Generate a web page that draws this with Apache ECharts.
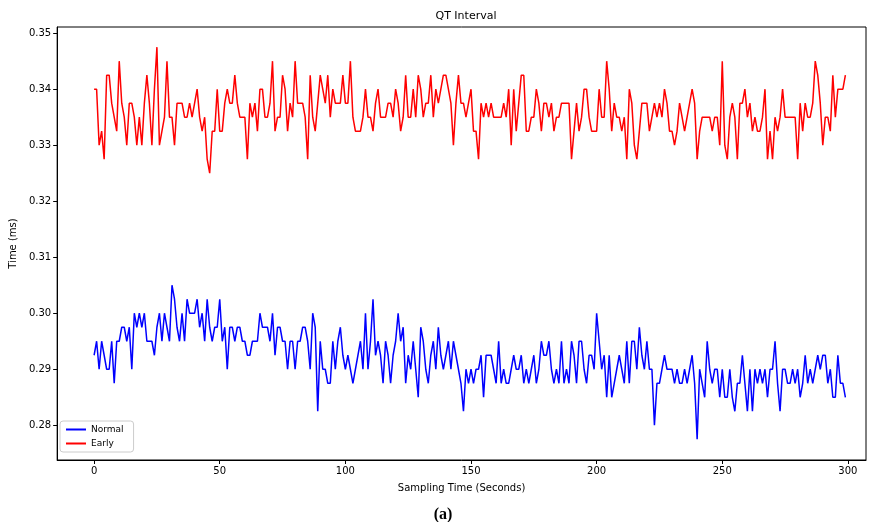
<!DOCTYPE html>
<html>
<head>
<meta charset="utf-8">
<script src="https://cdn.jsdelivr.net/npm/echarts@6/dist/echarts.min.js"></script>
<style>
  html, body { margin: 0; padding: 0; background: #fff; }
  #main { width: 877px; height: 522px; }
</style>
</head>
<body>
<div id="main"></div>
<script>
// Tick labels
const xTicks = [0, 50, 100, 150, 200, 250, 300];
const yTicks = [0.28, 0.29, 0.30, 0.31, 0.32, 0.33, 0.34, 0.35];

// QT interval per sample (0.0025 steps)
const normal = [
  0.2925, 0.295, 0.29, 0.295, 0.2925, 0.29, 0.29, 0.295, 0.2875, 0.295,
  0.295, 0.2975, 0.2975, 0.295, 0.2975, 0.29, 0.30, 0.2975, 0.30, 0.2975,
  0.30, 0.295, 0.295, 0.295, 0.2925, 0.2975, 0.30, 0.295, 0.30, 0.2975,
  0.295, 0.305, 0.3025, 0.2975, 0.295, 0.30, 0.295, 0.3025, 0.30, 0.30,
  0.30, 0.3025, 0.2975, 0.30, 0.295, 0.3025, 0.2975, 0.295, 0.2975, 0.2975,
  0.3025,
  0.295, 0.2975, 0.29, 0.2975, 0.2975, 0.295, 0.2975, 0.2975, 0.295, 0.295,
  0.2925, 0.2925, 0.295, 0.295, 0.295, 0.30, 0.2975, 0.2975, 0.2975, 0.295,
  0.30, 0.2925, 0.2975, 0.2975, 0.295, 0.295, 0.29, 0.295, 0.295, 0.29,
  0.295, 0.295, 0.2975, 0.2975, 0.295, 0.29, 0.30, 0.2975, 0.2825, 0.295,
  0.29, 0.29, 0.2875, 0.2875, 0.295, 0.29, 0.295, 0.2975, 0.2925, 0.29,
  0.2925, 0.29, 0.2875, 0.29, 0.2925, 0.295, 0.29, 0.30, 0.29, 0.295,
  0.3025, 0.2925, 0.295, 0.2925, 0.2875, 0.295, 0.2925, 0.2875, 0.2925, 0.295,
  0.30, 0.295, 0.2975, 0.2875, 0.2925, 0.29, 0.295, 0.29, 0.285, 0.2975,
  0.295, 0.29, 0.2875, 0.2925, 0.295, 0.29, 0.2975, 0.2925, 0.29, 0.2925,
  0.295, 0.29, 0.295, 0.2925, 0.29, 0.2875, 0.2825, 0.29, 0.2875, 0.29,
  0.2875, 0.29, 0.29, 0.2925, 0.285, 0.2925, 0.2925, 0.2925, 0.29, 0.2875,
  0.295, 0.2875, 0.29, 0.2875, 0.2875, 0.29, 0.2925, 0.29, 0.29, 0.2925,
  0.2875, 0.29, 0.2875, 0.29, 0.2925, 0.2875, 0.29, 0.295, 0.2925, 0.2925,
  0.295, 0.29, 0.2875, 0.29, 0.2875, 0.295, 0.2875, 0.29, 0.2875, 0.295,
  0.2925, 0.2875, 0.295, 0.295, 0.29, 0.2875, 0.2925, 0.2925, 0.29, 0.30,
  0.295, 0.29, 0.2925, 0.285, 0.2925, 0.285, 0.2875, 0.29, 0.2925, 0.29,
  0.2875, 0.295, 0.2875, 0.295, 0.295, 0.29, 0.2975, 0.2925, 0.29, 0.295,
  0.29, 0.29, 0.28,
  0.2875, 0.2875, 0.29, 0.2925, 0.29, 0.29, 0.29, 0.2875, 0.29, 0.2875,
  0.2875, 0.29, 0.2875, 0.29, 0.2925, 0.2875, 0.2775,
  0.29, 0.2875, 0.285, 0.295, 0.29, 0.2875, 0.29, 0.29, 0.285, 0.29,
  0.285, 0.285,
  0.29, 0.285, 0.2825, 0.2875, 0.2875, 0.2925, 0.2875, 0.2825, 0.29, 0.2825,
  0.29, 0.2875, 0.29, 0.2875, 0.29, 0.285, 0.29, 0.29, 0.295, 0.2875,
  0.2825, 0.29, 0.29, 0.2875, 0.2875, 0.29, 0.2875, 0.29, 0.285, 0.2875,
  0.2925, 0.2875, 0.29, 0.2875, 0.29, 0.2925, 0.29, 0.2925, 0.2925, 0.2875,
  0.29, 0.285, 0.285, 0.2925, 0.2875, 0.2875, 0.285
];

const early = [
  0.34, 0.34, 0.33, 0.3325, 0.3275, 0.3425, 0.3425, 0.3375, 0.335, 0.3325,
  0.345, 0.3375, 0.335, 0.33, 0.3375, 0.3375, 0.335, 0.33, 0.335, 0.33,
  0.3375, 0.3425, 0.3375, 0.33, 0.34, 0.3475, 0.33, 0.3325, 0.335, 0.345,
  0.335, 0.335, 0.33, 0.3375, 0.3375, 0.3375, 0.335, 0.335, 0.3375, 0.335,
  0.3375, 0.34, 0.335, 0.3325, 0.335, 0.3275, 0.325, 0.3325, 0.3325, 0.34,
  0.3325, 0.3325, 0.3375, 0.34, 0.3375, 0.3375, 0.3425, 0.3375, 0.335, 0.335,
  0.335, 0.3275, 0.3375, 0.335, 0.3375, 0.3325, 0.34, 0.34, 0.335, 0.335,
  0.3375, 0.345, 0.3325, 0.335, 0.335, 0.3425, 0.34, 0.3325, 0.3375, 0.335,
  0.345, 0.3375, 0.3375, 0.3375, 0.335, 0.3275, 0.3425, 0.335, 0.3325, 0.3375,
  0.3425, 0.34, 0.3375, 0.3425, 0.335, 0.34, 0.3375, 0.3375, 0.3375, 0.3425,
  0.3375, 0.3375, 0.345, 0.335, 0.3325, 0.3325, 0.3325, 0.335, 0.34, 0.335,
  0.335, 0.3325, 0.3375, 0.34, 0.335, 0.335, 0.335, 0.3375, 0.3375, 0.335,
  0.34, 0.3375, 0.3325, 0.335, 0.3425, 0.335, 0.335, 0.34, 0.335, 0.3425,
  0.34, 0.335, 0.3375, 0.3375, 0.3425, 0.335, 0.34, 0.3375, 0.34, 0.3425,
  0.3425, 0.34, 0.3375, 0.33, 0.3375, 0.3425, 0.3375, 0.3375, 0.335, 0.3375,
  0.34,
  0.3325, 0.3325, 0.3275, 0.3375, 0.335, 0.3375, 0.335, 0.3375, 0.335, 0.335,
  0.335, 0.335, 0.3375, 0.335, 0.34, 0.33, 0.34, 0.3325, 0.3375, 0.3425,
  0.3425, 0.3325, 0.3325, 0.335, 0.335, 0.34, 0.3375, 0.3325, 0.3375, 0.3375,
  0.335, 0.3375, 0.3325, 0.335, 0.335, 0.3375, 0.3375, 0.3375, 0.3375, 0.3275,
  0.3325, 0.3375, 0.3325, 0.335, 0.34, 0.34, 0.335, 0.3325, 0.3325, 0.3325,
  0.34,
  0.335, 0.335, 0.345, 0.34, 0.3325, 0.3375, 0.335, 0.335, 0.3325, 0.335,
  0.3275, 0.34, 0.3375, 0.33, 0.3275, 0.3325, 0.3375, 0.3375, 0.3375, 0.3325,
  0.335, 0.3375, 0.335, 0.3375, 0.335, 0.34, 0.3375, 0.3325, 0.3325, 0.33,
  0.3325, 0.3375, 0.335, 0.3325, 0.335, 0.3375, 0.34, 0.3375, 0.3275, 0.3325,
  0.335, 0.335, 0.335, 0.335, 0.3325, 0.335, 0.335, 0.33, 0.345,
  0.33, 0.3275, 0.335, 0.3375, 0.335, 0.3275, 0.3375, 0.3375, 0.34, 0.335,
  0.3375, 0.3325, 0.335, 0.3325, 0.3325, 0.335, 0.34, 0.3275, 0.3325, 0.3275,
  0.335, 0.3325, 0.335, 0.34, 0.335, 0.335, 0.335, 0.335, 0.335, 0.3275,
  0.3375, 0.3325, 0.3375, 0.335, 0.335, 0.3375, 0.345, 0.3425, 0.3375, 0.33,
  0.335, 0.335, 0.3325, 0.3425, 0.335, 0.34, 0.34, 0.34, 0.3425
];

const toPairs = (arr) => arr.map((v, i) => [i, v]);
const font = "DejaVu Sans";

let myChart = echarts.init(document.getElementById("main"));

let options = {
  animation: false,
  backgroundColor: "#fff",
  title: [
    {
      text: "QT Interval",
      left: 461,
      top: 6,
      textAlign: "center",
      textStyle: { fontFamily: font, fontSize: 11, fontWeight: "normal", color: "#000" },
    },
    {
      text: "(a)",
      left: 438,
      top: 502,
      textAlign: "center",
      textStyle: { fontFamily: "Liberation Serif", fontSize: 16, fontWeight: "bold", color: "#000" },
    },
  ],
  grid: {
    left: 57,
    right: 11,
    top: 27,
    bottom: 62,
    show: true,
    borderColor: "#000",
    borderWidth: 1,
    backgroundColor: "transparent",
  },
  legend: {
    orient: "vertical",
    left: 60,
    top: 421,
    itemWidth: 20,
    itemHeight: 2,
    itemGap: 5,
    icon: "rect",
    padding: [4, 10, 4, 6],
    backgroundColor: "#fff",
    borderColor: "#ccc",
    borderWidth: 1,
    borderRadius: 3,
    textStyle: { fontFamily: font, fontSize: 9, color: "#000" },
    data: ["Normal", "Early"],
  },
  xAxis: {
    type: "value",
    min: -14.7,
    max: 307.2,
    name: "Sampling Time (Seconds)",
    nameLocation: "middle",
    nameGap: 23,
    nameTextStyle: { fontFamily: font, fontSize: 10, color: "#000" },
    splitLine: { show: false },
    axisLine: { show: true, onZero: false, lineStyle: { color: "#000" } },
    axisTick: { show: true, length: 4, customValues: xTicks, lineStyle: { color: "#000" } },
    axisLabel: {
      customValues: xTicks,
      fontFamily: font,
      fontSize: 10,
      color: "#000",
      margin: 6,
    },
  },
  yAxis: {
    type: "value",
    min: 0.2738,
    max: 0.3511,
    name: "Time (ms)",
    nameLocation: "middle",
    nameGap: 36,
    nameTextStyle: { fontFamily: font, fontSize: 10, color: "#000" },
    splitLine: { show: false },
    axisLine: { show: true, onZero: false, lineStyle: { color: "#000" } },
    axisTick: { show: true, length: 4, customValues: yTicks, lineStyle: { color: "#000" } },
    axisLabel: {
      customValues: yTicks,
      formatter: (v) => v.toFixed(2),
      fontFamily: font,
      fontSize: 10,
      color: "#000",
      margin: 6,
    },
  },
  series: [
    {
      name: "Normal",
      type: "line",
      data: toPairs(normal),
      showSymbol: false,
      lineStyle: { color: "#0000ff", width: 1.5 },
      itemStyle: { color: "#0000ff" },
    },
    {
      name: "Early",
      type: "line",
      data: toPairs(early),
      showSymbol: false,
      lineStyle: { color: "#ff0000", width: 1.5 },
      itemStyle: { color: "#ff0000" },
    },
  ],
};
myChart.setOption(options);
</script>
</body>
</html>
